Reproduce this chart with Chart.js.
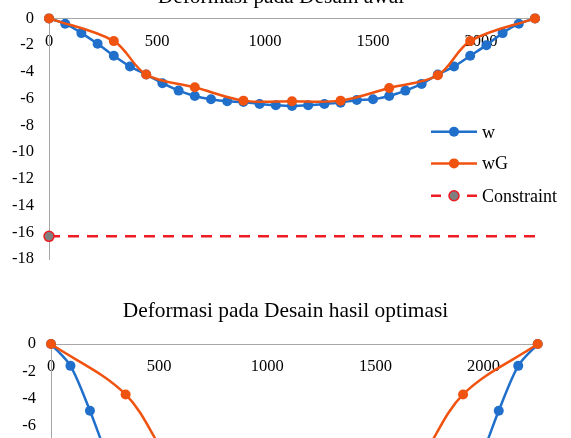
<!DOCTYPE html>
<html>
<head>
<meta charset="utf-8">
<script src="https://cdn.jsdelivr.net/npm/chart.js@4.4.0/dist/chart.umd.min.js"></script>
<style>
  html, body { margin: 0; padding: 0; background: #fff; overflow: hidden; width: 571px; height: 438px; }
  canvas { position: absolute; left: 0; }
  #chartAwal { top: -30px; }
  #chartOptimasi { top: 290px; }
</style>
</head>
<body>
<canvas id="chartAwal" width="571" height="314"></canvas>
<canvas id="chartOptimasi" width="571" height="324"></canvas>
<script>
// Desain awal
const awalWX = [0, 75, 150, 225, 300, 375, 450, 525, 600, 675, 750, 825, 900, 975, 1050, 1125,
  1200, 1275, 1350, 1425, 1500, 1575, 1650, 1725, 1800, 1875, 1950, 2025, 2100, 2175, 2250];
const awalWY = [0, -0.4, -1.1, -1.9, -2.8, -3.6, -4.2, -4.85, -5.4, -5.8, -6.05, -6.2, -6.25, -6.4, -6.5, -6.55,
  -6.5, -6.4, -6.3, -6.1, -6.05, -5.8, -5.4, -4.9, -4.2, -3.6, -2.8, -2.0, -1.1, -0.4, 0];
const awalWGX = [0, 300, 450, 675, 900, 1125, 1350, 1575, 1800, 1950, 2250];
const awalWGY = [0, -1.7, -4.2, -5.15, -6.15, -6.2, -6.15, -5.2, -4.25, -1.7, 0];

// Desain hasil optimasi
const optWX = [0, 90, 180, 270, 360, 450, 540, 630, 720, 810, 900, 990, 1080, 1170,
  1260, 1350, 1440, 1530, 1620, 1710, 1800, 1890, 1980, 2070, 2160, 2250];
const optWY = [0, -1.6, -4.9, -8.6, -11.2, -13.0, -14.2, -15.0, -15.5, -15.8, -16.0, -16.1, -16.2, -16.2,
  -16.1, -16.0, -15.8, -15.5, -15.0, -14.2, -13.0, -11.2, -8.6, -4.9, -1.6, 0];
const optWGX = [0, 345, 600, 900, 1125, 1350, 1650, 1905, 2250];
const optWGY = [0, -3.7, -9.5, -11.5, -12.0, -11.5, -9.5, -3.7, 0];

// Batas lendutan
const constraintX = [0, 2250];
const constraintY = [-16.3, -16.3];

const seriesNames = ["w", "wG", "Constraint"];
const xTickValues = [0, 500, 1000, 1500, 2000];
const yMin = -18;
const yMax = 0;
const xMax = 2250;

const BLUE = "#1f6fcb";
const ORANGE = "#f0520f";
const RED = "#ee1c24";
const GRAY_AXIS = "#a6a6a6";
const FONT = "'Liberation Serif', 'Times New Roman', serif";

function toPoints(xs, ys) {
  return xs.map((x, i) => ({ x: x, y: ys[i] }));
}

// Legenda di dalam area plot
const legendInside = {
  id: "legendInside",
  afterDraw(chart) {
    const { ctx, chartArea } = chart;
    const x0 = chartArea.right - 104;
    const rows = [113.4, 145, 177.4];
    chart.data.datasets.forEach((ds, i) => {
      const y = chartArea.top + rows[i];
      ctx.save();
      ctx.strokeStyle = ds.borderColor;
      ctx.lineWidth = ds.borderWidth;
      ctx.setLineDash(ds.borderDash ? [10, 8] : []);
      ctx.beginPath();
      ctx.moveTo(x0, y);
      ctx.lineTo(x0 + 46, y);
      ctx.stroke();
      ctx.setLineDash([]);
      ctx.beginPath();
      ctx.arc(x0 + 23, y, 5, 0, Math.PI * 2);
      ctx.fillStyle = ds.legendFill;
      ctx.fill();
      if (ds.pointBorderWidth) {
        ctx.lineWidth = ds.pointBorderWidth;
        ctx.strokeStyle = ds.pointBorderColor;
        ctx.stroke();
      }
      ctx.fillStyle = "#000";
      ctx.font = "18px " + FONT;
      ctx.textBaseline = "middle";
      ctx.textAlign = "left";
      ctx.fillText(ds.label, x0 + 51, y + 1);
      ctx.restore();
    });
  }
};

function makeChart(id, title, wPts, wgPts, box) {
  return new Chart(document.getElementById(id), {
    type: "line",
    data: {
      datasets: [
        {
          label: seriesNames[0],
          data: wPts,
          borderColor: BLUE,
          backgroundColor: BLUE,
          pointBackgroundColor: BLUE,
          pointBorderColor: BLUE,
          legendFill: BLUE,
          borderWidth: 2.5,
          pointRadius: 5,
          pointBorderWidth: 0,
          tension: 0.3,
          order: 3,
        },
        {
          label: seriesNames[1],
          data: wgPts,
          borderColor: ORANGE,
          backgroundColor: ORANGE,
          pointBackgroundColor: ORANGE,
          pointBorderColor: ORANGE,
          legendFill: ORANGE,
          borderWidth: 2.5,
          pointRadius: 5,
          pointBorderWidth: 0,
          tension: 0.35,
          order: 2,
        },
        {
          label: seriesNames[2],
          data: toPoints(constraintX, constraintY),
          borderColor: RED,
          backgroundColor: RED,
          borderDash: [11, 8],
          borderWidth: 2.5,
          pointRadius: [5, 0],
          pointBackgroundColor: "#7f7f7f",
          pointBorderColor: RED,
          pointBorderWidth: 1.5,
          legendFill: "#7f7f7f",
          order: 1,
        },
      ],
    },
    options: {
      responsive: false,
      animation: false,
      devicePixelRatio: 1,
      clip: false,
      layout: {
        autoPadding: false,
        padding: { left: 0, right: box.padRight, top: 0, bottom: box.padBottom },
      },
      plugins: {
        legend: { display: false },
        tooltip: { enabled: false },
        title: {
          display: true,
          text: title,
          color: "#000",
          font: { family: FONT, size: 21.4, weight: "normal" },
          padding: { top: box.titleTop, bottom: box.titleBottom },
        },
      },
      scales: {
        x: {
          type: "linear",
          min: 0,
          max: xMax,
          position: { y: 0 },
          z: 1,
          grid: { display: false, drawTicks: false },
          border: { color: GRAY_AXIS, width: 1 },
          afterBuildTicks: (scale) => {
            scale.ticks = xTickValues.map((v) => ({ value: v }));
          },
          ticks: {
            padding: 13,
            color: "#000",
            maxRotation: 0,
            autoSkip: false,
            font: { family: FONT, size: 16.5 },
            callback: (v) => String(v),
          },
        },
        y: {
          min: yMin,
          max: yMax,
          position: "left",
          grid: { display: false, drawTicks: false },
          border: { color: GRAY_AXIS, width: 1 },
          ticks: {
            stepSize: 2,
            padding: 15,
            color: "#000",
            font: { family: FONT, size: 16.5 },
            callback: (v) => String(v),
          },
          afterFit: (scale) => {
            scale.width = box.yWidth;
          },
        },
        // sumbu kosong di kanan hanya untuk menyisakan ruang
        yPad: {
          min: yMin,
          max: yMax,
          position: "right",
          grid: { display: false },
          border: { display: false },
          ticks: { display: false },
          afterFit: (scale) => {
            scale.width = box.rightSpace;
          },
        },
      },
    },
    plugins: [legendInside],
  });
}

makeChart("chartAwal", "Deformasi pada Desain awal",
  toPoints(awalWX, awalWY), toPoints(awalWGX, awalWGY),
  { padRight: 9, rightSpace: 27, padBottom: 17.4, yWidth: 49, titleTop: 14.9, titleBottom: 7.8 });

makeChart("chartOptimasi", "Deformasi pada Desain hasil optimasi",
  toPoints(optWX, optWY), toPoints(optWGX, optWGY),
  { padRight: 0, rightSpace: 33.3, padBottom: 20.8, yWidth: 51, titleTop: 8.9, titleBottom: 19.5 });
</script>
</body>
</html>
